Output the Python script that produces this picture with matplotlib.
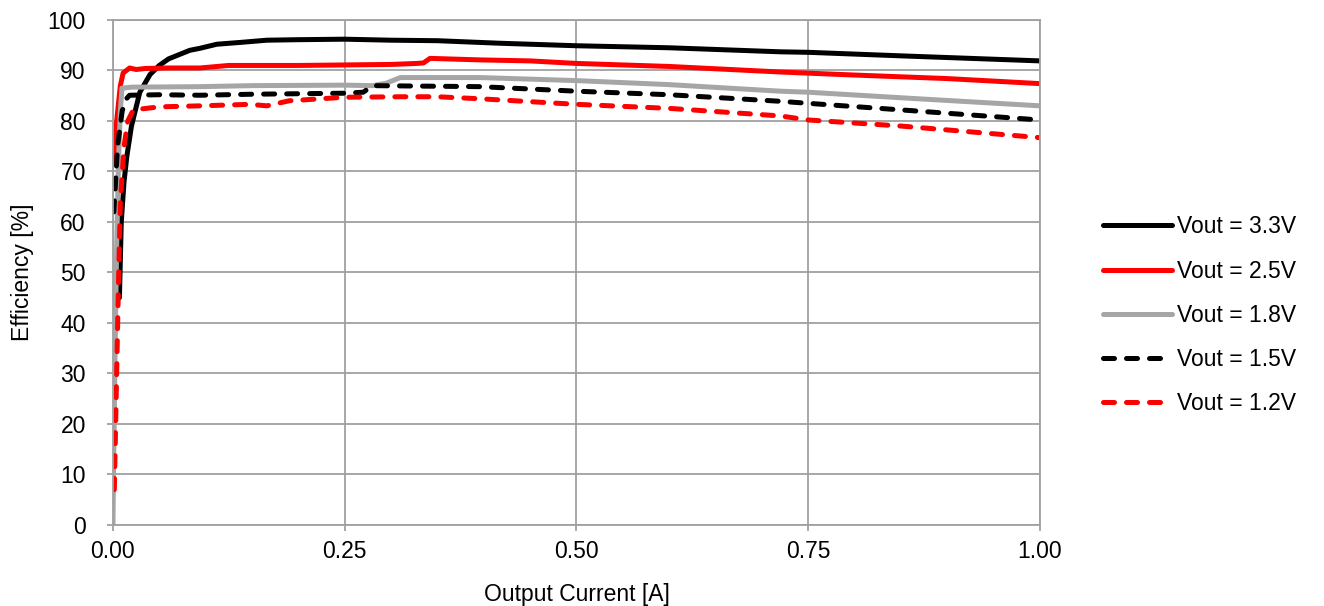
import matplotlib.pyplot as plt

# Efficiency vs output current
x_33 = [0.007, 0.009, 0.012, 0.015, 0.02, 0.029, 0.04, 0.05, 0.06, 0.083, 0.094, 0.112, 0.14,
        0.166, 0.2, 0.25, 0.3, 0.35, 0.417, 0.5, 0.6, 0.72, 0.75, 0.85, 1.0]
y_33 = [45, 60, 68, 73, 79, 85.7, 89.2, 91, 92.3, 94, 94.4, 95.2, 95.6,
        96.0, 96.1, 96.2, 96.0, 95.9, 95.4, 94.9, 94.5, 93.7, 93.6, 92.9, 91.9]

x_25 = [0.001, 0.004, 0.008, 0.011, 0.018, 0.025, 0.035, 0.06, 0.094, 0.125, 0.2, 0.3, 0.328,
        0.335, 0.342, 0.396, 0.45, 0.5, 0.6, 0.72, 0.8, 0.9, 1.0]
y_25 = [72, 80, 87, 89.5, 90.5, 90.2, 90.4, 90.5, 90.5, 91.0, 91.0, 91.2, 91.4,
        91.5, 92.4, 92.1, 91.9, 91.4, 90.8, 89.7, 89.1, 88.4, 87.4]

x_18 = [0.0, 0.002, 0.004, 0.006, 0.008, 0.0097, 0.02, 0.094, 0.15, 0.25, 0.28, 0.295, 0.31,
        0.396, 0.5, 0.6, 0.72, 0.75, 0.85, 1.0]
y_18 = [0, 30, 55, 72, 82, 86.5, 86.7, 86.8, 87.0, 87.1, 87.0, 87.5, 88.6,
        88.6, 88.0, 87.2, 85.9, 85.7, 84.6, 83.0]

x_15 = [0.001, 0.005, 0.01, 0.015, 0.018, 0.05, 0.094, 0.15, 0.25, 0.27, 0.28, 0.396, 0.5,
        0.6, 0.72, 0.75, 0.85, 1.0]
y_15 = [62, 75, 82, 84.5, 85.1, 85.2, 85.1, 85.3, 85.5, 85.7, 87.0, 86.8, 85.9,
        85.2, 83.9, 83.5, 82.2, 80.2]

x_12 = [0.0015, 0.004, 0.006, 0.008, 0.012, 0.016, 0.022, 0.05, 0.094, 0.148, 0.166, 0.19, 0.25,
        0.31, 0.35, 0.396, 0.5, 0.6, 0.72, 0.75, 0.85, 1.0]
y_12 = [7, 30, 48, 64, 75, 80, 82.2, 82.8, 83.0, 83.3, 83.0, 84.0, 84.7,
        84.8, 84.8, 84.4, 83.3, 82.5, 81.0, 80.2, 79.0, 76.7]

labels = ['Vout = 3.3V', 'Vout = 2.5V', 'Vout = 1.8V', 'Vout = 1.5V', 'Vout = 1.2V']
x_ticks = [0.0, 0.25, 0.5, 0.75, 1.0]
y_ticks = list(range(0, 101, 10))

plt.rcParams['font.family'] = ['Liberation Sans', 'DejaVu Sans']
fig = plt.figure(figsize=(13.24, 6.06), dpi=100)
ax = fig.add_axes([0.0853, 0.1337, 0.7002, 0.8333])

lw = 3.6
dash = (2.2, 2.4)
ax.plot(x_33, y_33, color='black', lw=lw, label=labels[0], solid_capstyle='round')
ax.plot(x_25, y_25, color='#ff0000', lw=lw, label=labels[1], solid_capstyle='round')
ax.plot(x_18, y_18, color='#a6a6a6', lw=lw, label=labels[2], solid_capstyle='round')
ax.plot(x_15, y_15, color='black', lw=lw, label=labels[3], dashes=dash, dash_capstyle='round')
ax.plot(x_12, y_12, color='#ff0000', lw=lw, label=labels[4], dashes=dash, dash_capstyle='round')

ax.set_xlim(0, 1.0)
ax.set_ylim(0, 100)
ax.set_xticks(x_ticks)
ax.set_xticklabels(['%.2f' % t for t in x_ticks])
ax.set_yticks(y_ticks)
ax.grid(True, color='#a0a0a0', lw=1.3)
ax.set_axisbelow(True)
for s in ax.spines.values():
    s.set_color('#a0a0a0')
    s.set_linewidth(1.3)
ax.tick_params(colors='#a0a0a0', labelcolor='black', labelsize=16.5, length=4.5, width=1.3)
ax.tick_params(axis='y', pad=15)
ax.tick_params(axis='x', pad=6)

ax.set_xlabel('Output Current [A]', fontsize=16.5, color='black', labelpad=15)
ax.set_ylabel('Efficiency [%]', fontsize=16.5, color='black', labelpad=10)

ax.legend(loc='center left', bbox_to_anchor=(0.826, 0.48), bbox_transform=fig.transFigure,
          borderaxespad=0, frameon=False, fontsize=16.5, handlelength=3.0,
          handletextpad=0.26, labelspacing=0.92)

plt.savefig('out.png')
